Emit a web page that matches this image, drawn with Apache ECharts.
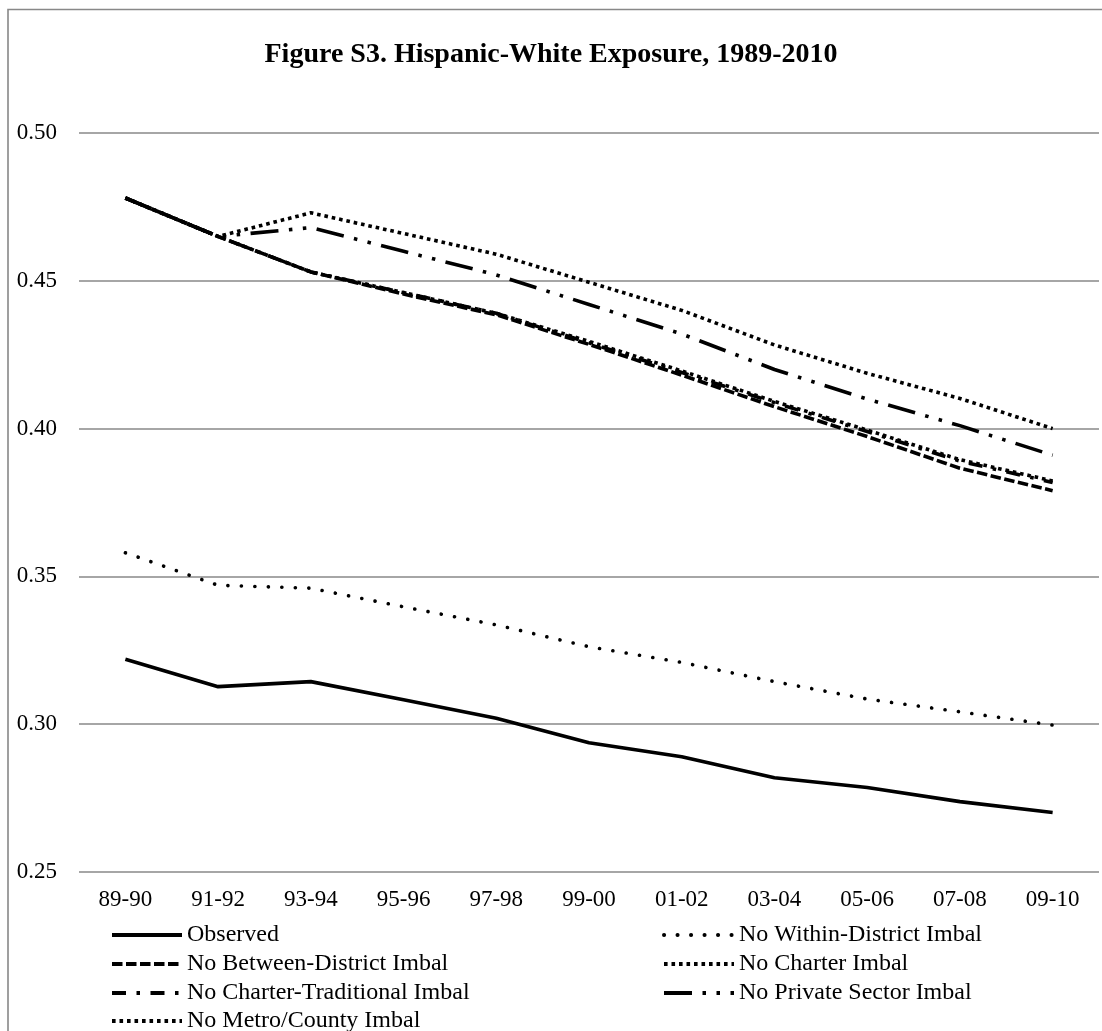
<!DOCTYPE html>
<html>
<head>
<meta charset="utf-8">
<title>Figure S3. Hispanic-White Exposure, 1989-2010</title>
<script src="https://cdn.jsdelivr.net/npm/echarts@6/dist/echarts.min.js"></script>
<style>
  html, body { margin: 0; padding: 0; background: #ffffff; }
  #chart { width: 1102px; height: 1031px; }
</style>
</head>
<body>
<div id="chart"></div>
<script>
// School years on the horizontal axis
const years = ['89-90', '91-92', '93-94', '95-96', '97-98', '99-00', '01-02', '03-04', '05-06', '07-08', '09-10'];

// Hispanic-White exposure index, observed and counterfactual scenarios
const observed        = [0.322, 0.3127, 0.3144, 0.3083, 0.3020, 0.2937, 0.2890, 0.2819, 0.2786, 0.2738, 0.2701];
const noWithinDist    = [0.358, 0.347, 0.346, 0.3397, 0.3336, 0.3262, 0.3209, 0.3144, 0.3085, 0.3042, 0.2997];
const noBetweenDist   = [0.478, 0.465, 0.453, 0.4455, 0.4385, 0.4285, 0.4181, 0.4074, 0.3973, 0.3866, 0.3790];
const noCharter       = [0.478, 0.465, 0.453, 0.4460, 0.4390, 0.4295, 0.4195, 0.4092, 0.3995, 0.3895, 0.3823];
const noCharterTrad   = [0.478, 0.465, 0.453, 0.4460, 0.4390, 0.4290, 0.4190, 0.4088, 0.3990, 0.3890, 0.3818];
const noPrivate       = [0.478, 0.465, 0.468, 0.460, 0.452, 0.442, 0.432, 0.420, 0.410, 0.401, 0.391];
const noMetroCounty   = [0.478, 0.465, 0.473, 0.466, 0.459, 0.4495, 0.440, 0.4283, 0.4187, 0.4102, 0.400];

// Value axis ticks
const yMin = 0.25, yMax = 0.50, yStep = 0.05;

const FONT = '"Liberation Serif", "Times New Roman", serif';
const W = 3.6; // stroke width of every series line

function lineSeries(name, data, type, cap) {
  return {
    name: name,
    type: 'line',
    data: data,
    symbol: 'none',
    smooth: false,
    silent: true,
    lineStyle: { color: '#000', width: W, type: type, cap: cap || 'butt', join: 'round' },
    itemStyle: { color: '#000' },
    emphasis: { disabled: true }
  };
}

// One legend block per entry, laid out as two columns of rows
function legendEntry(name, left, top) {
  return {
    data: [name],
    left: left,
    top: top,
    orient: 'horizontal',
    itemWidth: 70,
    itemHeight: 14,
    selectedMode: false,
    padding: 0,
    lineStyle: { width: 4 },
    itemStyle: { opacity: 0, color: 'transparent', borderWidth: 0 },
    textStyle: { fontFamily: FONT, fontSize: 24, color: '#000', lineHeight: 24 }
  };
}

const colLeft = 110, colRight = 662;
const rowTops = [923, 952, 981, 1009];

const chart = echarts.init(document.getElementById('chart'), null, { renderer: 'canvas' });

chart.setOption({
  animation: false,
  backgroundColor: '#ffffff',
  title: {
    text: 'Figure S3. Hispanic-White Exposure, 1989-2010',
    left: 'center',
    top: 36,
    textStyle: { fontFamily: FONT, fontSize: 28, fontWeight: 'bold', color: '#000' }
  },
  graphic: [{
    type: 'rect',
    shape: { x: 8, y: 9.5, width: 1300, height: 1300 },
    style: { fill: null, stroke: '#888888', lineWidth: 1.6 },
    silent: true,
    z: -10
  }],
  grid: { left: 79, right: 3, top: 133, bottom: 159, containLabel: false },
  xAxis: {
    type: 'category',
    data: years,
    boundaryGap: true,
    axisLine: { show: false },
    axisTick: { show: false },
    axisLabel: { fontFamily: FONT, fontSize: 23, color: '#000', margin: 16 }
  },
  yAxis: {
    type: 'value',
    min: yMin,
    max: yMax,
    interval: yStep,
    axisLine: { show: false },
    axisTick: { show: false },
    axisLabel: {
      fontFamily: FONT, fontSize: 23, color: '#000', margin: 22,
      formatter: v => v.toFixed(2)
    },
    splitLine: { lineStyle: { color: '#888888', width: 1.6 } }
  },
  legend: [
    legendEntry('Observed', colLeft, rowTops[0]),
    legendEntry('No Between-District Imbal', colLeft, rowTops[1]),
    legendEntry('No Charter-Traditional Imbal', colLeft, rowTops[2]),
    legendEntry('No Metro/County Imbal', colLeft, rowTops[3]),
    legendEntry('No Within-District Imbal', colRight, rowTops[0]),
    legendEntry('No Charter Imbal', colRight, rowTops[1]),
    legendEntry('No Private Sector Imbal', colRight, rowTops[2])
  ],
  series: [
    lineSeries('Observed', observed, 'solid'),
    lineSeries('No Within-District Imbal', noWithinDist, [0.1, 13.4], 'round'),
    lineSeries('No Between-District Imbal', noBetweenDist, [10.5, 3.5]),
    lineSeries('No Charter Imbal', noCharter, [3.6, 3.9]),
    lineSeries('No Charter-Traditional Imbal', noCharterTrad, [14, 10.5, 3.5, 10.5]),
    lineSeries('No Private Sector Imbal', noPrivate, [28, 10.5, 3.5, 10.5, 3.5, 10.5]),
    lineSeries('No Metro/County Imbal', noMetroCounty, [3.6, 3.9])
  ]
});
</script>
</body>
</html>
